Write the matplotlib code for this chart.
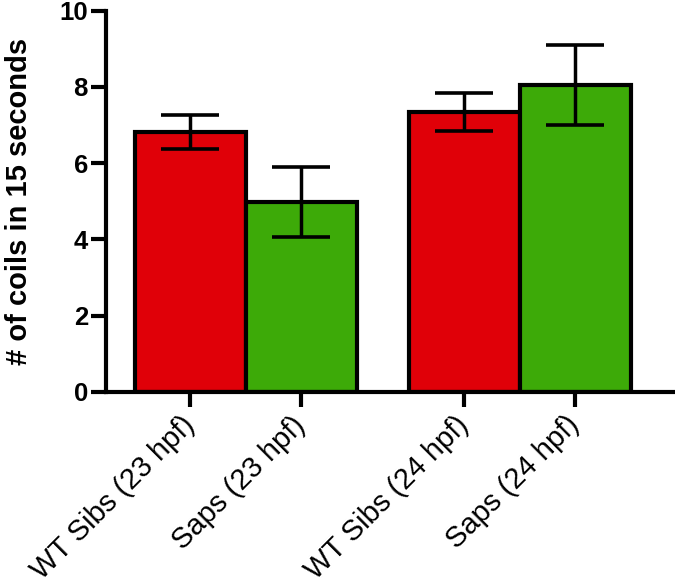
import matplotlib
matplotlib.use("Agg")
import matplotlib.pyplot as plt
import numpy as np

categories = ["WT Sibs (23 hpf)", "Saps (23 hpf)", "WT Sibs (24 hpf)", "Saps (24 hpf)"]
means = [6.82, 4.99, 7.33, 8.05]
err_low = [6.36, 4.06, 6.85, 6.99]
err_high = [7.27, 5.90, 7.83, 9.11]
colors = ["#E00008", "#3DAA08", "#E00008", "#3DAA08"]
positions = [0, 1, 2.47, 3.47]
yticks = [0, 2, 4, 6, 8, 10]

plt.rcParams['font.family'] = ['Liberation Sans', 'DejaVu Sans']

fig = plt.figure(figsize=(6.75, 5.86), dpi=100)
ax = fig.add_axes([0.157, 0.3316, 0.843, 0.650])

lower = np.array(means) - np.array(err_low)
upper = np.array(err_high) - np.array(means)
ax.bar(positions, means, width=1.0, color=colors, edgecolor='black', linewidth=3.0, zorder=2)
ax.errorbar(positions, means, yerr=[lower, upper], fmt='none', ecolor='black',
            elinewidth=2.5, capsize=21, capthick=2.6, zorder=3)

ax.set_ylim(0, 10)
ax.set_xlim(-0.76, 4.37)
ax.set_yticks(yticks)
ax.set_yticklabels([str(t) for t in yticks], fontsize=18.5, fontweight='bold')
ax.set_xticks(positions)
ax.set_xticklabels(categories, rotation=45, ha='right', va='center',
                   rotation_mode='anchor', fontsize=21)
ax.set_ylabel("# of coils in 15 seconds", fontsize=21, fontweight='bold', labelpad=19)

for s in ['top', 'right']:
    ax.spines[s].set_visible(False)
for s in ['left', 'bottom']:
    ax.spines[s].set_linewidth(3.0)
ax.tick_params(axis='both', width=3.0, length=11, pad=2)
ax.tick_params(axis='x', pad=10)

fig.savefig("out.png", dpi=100)
